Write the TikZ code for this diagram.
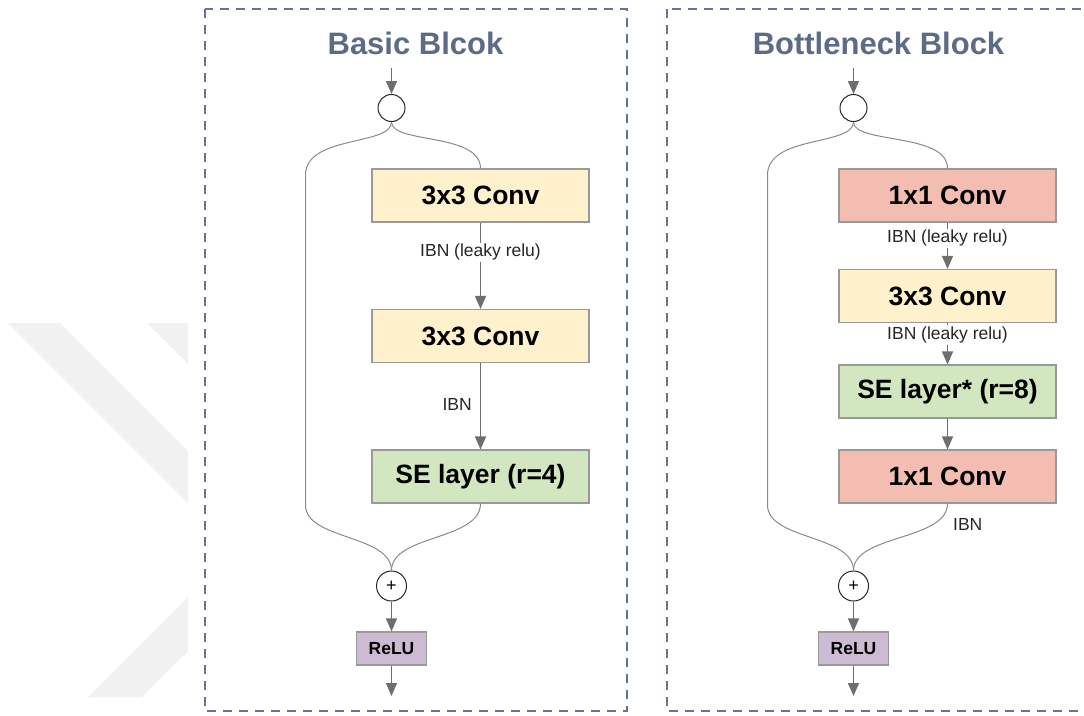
\documentclass[tikz,border=0pt]{standalone}
\usepackage{fontspec}
\setmainfont{Liberation Sans}
\usetikzlibrary{arrows.meta}
\definecolor{framec}{HTML}{66758F}
\definecolor{titlec}{HTML}{5D6C86}
\definecolor{convy}{HTML}{FFF1CC}
\definecolor{seg}{HTML}{D2E6C0}
\definecolor{convr}{HTML}{F4BDB2}
\definecolor{reluc}{HTML}{CBBCD4}
\definecolor{edgec}{HTML}{999999}
\definecolor{wire}{HTML}{6E6E6E}
\definecolor{skipc}{HTML}{8A8A8A}
\definecolor{markc}{HTML}{F1F1F1}
\begin{document}
\begin{tikzpicture}[x=1pt,y=-1pt,
  blockframe/.style={draw=framec, line width=1.8pt, dash pattern=on 9pt off 7pt},
  ttl/.style={text=titlec, font=\fontsize{31}{31}\selectfont\bfseries},
  blk/.style={draw=edgec, line width=1.2pt, minimum width=217pt, minimum height=53pt,
    inner sep=0pt, font=\fontsize{26.5}{26.5}\selectfont\bfseries},
  relubox/.style={draw=edgec, line width=1.2pt, fill=reluc, minimum width=70pt,
    minimum height=33pt, inner sep=0pt, font=\fontsize{17.5}{17.5}\selectfont\bfseries},
  splitc/.style={circle, draw=black!85, line width=1pt, minimum size=27pt, inner sep=0pt},
  sumc/.style={circle, draw=black!85, line width=1pt, minimum size=30pt, inner sep=0pt,
    font=\fontsize{18}{18}\selectfont},
  arr/.style={draw=wire, line width=1.5pt, -{Triangle[length=13pt,width=11pt]}},
  skip/.style={draw=skipc, line width=1pt},
  lbl/.style={fill=white, inner sep=1.5pt, text=black!85, font=\fontsize{17.5}{17.5}\selectfont},
  sidelbl/.style={inner sep=0pt, text=black!85, font=\fontsize{17.5}{17.5}\selectfont}
]
\useasboundingbox (0,0) rectangle (1084,715);
\clip (0,0) rectangle (1084,715);

% faint chevron mark at the left margin
\fill[markc] (8,323) -- (60,323) -- (188,451) -- (188,503) -- cycle;
\fill[markc] (147,323) -- (188,323) -- (188,364) -- cycle;
\fill[markc] (88,697) -- (142,697) -- (188,651) -- (188,597) -- cycle;

% ---------------- Basic block ----------------
\draw[blockframe] (205,9) rectangle (627,711);
\node[ttl] (t1) at (415.5,43) {Basic Blcok};

\coordinate (a-in) at (391.5,68);
\node[splitc] (a-split) at (391.5,108) {};
\node[blk, fill=convy] (a-c1) at (480.5,195.5) {3x3 Conv};
\node[blk, fill=convy] (a-c2) at (480.5,336) {3x3 Conv};
\node[blk, fill=seg]   (a-se) at (480.5,476.5) {SE layer (r=4)};
\node[sumc] (a-sum) at (391.5,586) {+};
\node[relubox] (a-relu) at (391.5,648.5) {ReLU};
\coordinate (a-out) at (391.5,696);
\coordinate (a-sk1) at (305.5,175);
\coordinate (a-sk2) at (305.5,505);

\draw[arr] (a-in) -- (a-split.north);
\draw[skip] (a-split.south) .. controls +(0,22) and +(0,-36) .. (a-c1.north);
\draw[skip] (a-split.south) .. controls +(0,24) and +(0,-40) .. (a-sk1) -- (a-sk2)
  .. controls +(0,35) and +(0,-36) .. (a-sum.north);
\draw[skip] (a-se.south) .. controls +(0,37) and +(0,-36) .. (a-sum.north);
\draw[arr] (a-c1.south) -- node[lbl, pos=0.345] {IBN (leaky relu)} (a-c2.north);
\draw[arr] (a-c2.south) -- node[sidelbl, pos=0.48, anchor=east, xshift=-8pt] {IBN} (a-se.north);
\draw[arr] (a-sum.south) -- (a-relu.north);
\draw[arr] (a-relu.south) -- (a-out);

% ---------------- Bottleneck block ----------------
\draw[blockframe] (667,9) rectangle (1100,711);
\node[ttl] (t2) at (878.5,43) {Bottleneck Block};

\coordinate (b-in) at (853.5,68);
\node[splitc] (b-split) at (853.5,108) {};
\node[blk, fill=convr] (b-c1) at (947.5,195.5) {1x1 Conv};
\node[blk, fill=convy] (b-c2) at (947.5,296) {3x3 Conv};
\node[blk, fill=seg]   (b-se) at (947.5,391.5) {SE layer* (r=8)};
\node[blk, fill=convr] (b-c3) at (947.5,476.5) {1x1 Conv};
\node[sumc] (b-sum) at (853.5,586) {+};
\node[relubox] (b-relu) at (853.5,648.5) {ReLU};
\coordinate (b-out) at (853.5,696);
\coordinate (b-sk1) at (767.5,175);
\coordinate (b-sk2) at (767.5,505);
\node[sidelbl, anchor=west] (b-ibn) at (953,524) {IBN};

\draw[arr] (b-in) -- (b-split.north);
\draw[skip] (b-split.south) .. controls +(0,22) and +(0,-36) .. (b-c1.north);
\draw[skip] (b-split.south) .. controls +(0,24) and +(0,-40) .. (b-sk1) -- (b-sk2)
  .. controls +(0,35) and +(0,-36) .. (b-sum.north);
\draw[skip] (b-c3.south) .. controls +(0,37) and +(0,-36) .. (b-sum.north);
\draw[arr] (b-c1.south) -- node[lbl, pos=0.34] {IBN (leaky relu)} (b-c2.north);
\draw[arr] (b-c2.south) -- node[lbl, pos=0.29] {IBN (leaky relu)} (b-se.north);
\draw[arr] (b-se.south) -- (b-c3.north);
\draw[arr] (b-sum.south) -- (b-relu.north);
\draw[arr] (b-relu.south) -- (b-out);
\end{tikzpicture}
\end{document}
